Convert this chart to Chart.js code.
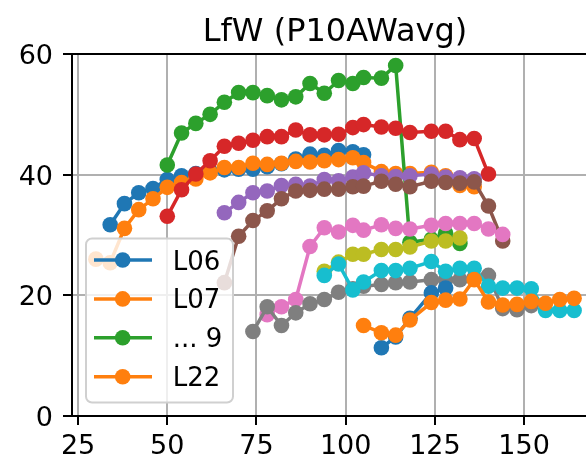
<!DOCTYPE html>
<html><head><meta charset="utf-8">
<script src="https://cdn.jsdelivr.net/npm/chart.js@4"></script>
<style>
html,body{margin:0;padding:0;background:#fff;overflow:hidden}
#wrap{width:586px;height:461px;overflow:hidden;position:relative}
canvas{display:block}
</style></head>
<body><div id="wrap"><canvas id="c" width="640" height="461"></canvas></div>
<script>
const _ = null;
// shared x positions
const xs = [30,34,38,42,46,50,54,58,62,66,70,74,78,82,86,90,94,98,102,105,110,114,118,124,128,132,136,140,144,148,152,156,160,164];
const xTicks = [25,50,75,100,125,150];
const yTicks = [0,20,40,60];
const title = 'LfW (P10AWavg)';

const L06 = [_,31.7,35.2,37.0,37.7,39.2,39.8,40.2,40.6,40.8,40.9,40.9,41.3,41.8,42.6,43.4,43.2,44.0,43.8,43.3,_,_,_,_,_,_,_,_,_,_,_,_,_,_];
const L07 = [26.0,25.4,31.1,34.2,36.0,37.9,38.7,39.3,40.3,41.2,41.2,41.9,41.7,41.9,42.2,42.1,42.3,42.5,42.8,42.0,40.5,40.2,40.2,40.4,39.8,38.2,38.0,_,_,_,_,_,_,_];
const S3  = [_,_,_,_,_,41.6,46.9,48.5,50.0,52.0,53.6,53.6,53.1,52.4,52.9,55.1,53.5,55.6,55.1,56.1,56.0,58.1,28.8,29.3,30.3,28.6,_,_,_,_,_,_,_,_];
const S4  = [_,_,_,_,_,33.1,37.5,40.1,42.3,44.7,45.2,45.7,46.3,46.3,47.4,46.6,46.6,46.7,47.8,48.3,47.9,47.7,47.0,47.2,47.2,45.8,46.0,40.1,_,_,_,_,_,_];
const S5  = [_,_,_,_,_,_,_,_,_,33.7,35.4,37.0,37.3,38.2,38.4,38.1,39.2,39.0,39.6,40.3,39.8,39.7,39.8,40.1,39.6,39.5,39.3,_,_,_,_,_,_,_];
const S6  = [_,_,_,_,_,_,_,_,_,22.1,29.8,32.4,34.0,36.0,37.3,37.4,37.6,37.6,38.0,38.1,38.9,38.4,38.0,38.9,38.7,38.6,38.8,34.8,29.0,_,_,_,_,_];
const S7  = [_,_,_,_,_,_,_,_,_,_,_,_,16.8,18.1,19.3,28.1,31.2,30.5,31.6,30.8,31.7,31.1,31.0,31.6,31.9,31.9,31.9,31.0,30.1,_,_,_,_,_];
const S8  = [_,_,_,_,_,_,_,_,_,_,_,14.0,18.1,15.0,17.1,18.6,19.3,20.5,21.1,21.5,21.8,22.1,22.2,22.6,22.6,22.6,22.9,23.3,17.8,17.6,18.3,_,_,_];
const S9  = [_,_,_,_,_,_,_,_,_,_,_,_,_,_,_,_,24.0,25.5,26.8,26.8,27.6,27.6,28.0,29.0,29.0,29.5,_,_,_,_,_,_,_,_];
const S10 = [_,_,_,_,_,_,_,_,_,_,_,_,_,_,_,_,23.3,25.2,20.9,22.2,24.1,24.1,24.5,25.6,24.0,24.5,24.5,21.5,21.2,21.2,21.1,17.5,17.5,17.5];
const S11 = [_,_,_,_,_,_,_,_,_,_,_,_,_,_,_,_,_,_,_,_,11.3,13.1,16.2,20.4,21.2,_,_,_,_,_,_,_,_,_];
const L22 = [_,_,_,_,_,_,_,_,_,_,_,_,_,_,_,_,_,_,_,15.0,13.8,13.4,15.9,18.8,19.2,19.4,22.6,18.9,18.4,18.5,19.0,18.7,19.3,19.5];

const seriesNames = ['L06','L07','S3','S4','S5','S6','S7','S8','S9','S10','S11','L22'];
const seriesValues = [L06,L07,S3,S4,S5,S6,S7,S8,S9,S10,S11,L22];
const colors = ['#1f77b4','#ff7f0e','#2ca02c','#d62728','#9467bd','#8c564b','#e377c2','#7f7f7f','#bcbd22','#17becf','#1f77b4','#ff7f0e'];
const legendLabels = ['L06','L07','... 9','L22'];
const legendColors = [colors[0],colors[1],colors[2],colors[11]];

const FONT = "'DejaVu Sans', sans-serif";
const PR = 7.8, LW = 3.5;

const datasets = seriesValues.map((vals,i)=>({
  label: seriesNames[i],
  data: xs.map((x,j)=>({x:x, y:vals[j]})).filter(p=>p.y!==null),
  borderColor: colors[i], backgroundColor: colors[i],
  pointBackgroundColor: colors[i], pointBorderColor: colors[i],
  pointBorderWidth: 0, pointRadius: PR, pointHoverRadius: PR,
  borderWidth: LW, tension: 0, fill: false,
  order: seriesValues.length - i
}));

const decor = {
  id:'decor',
  afterDatasetsDraw(chart){
    const ctx = chart.ctx, a = chart.chartArea;
    ctx.save();
    ctx.strokeStyle = '#000'; ctx.lineWidth = 2;
    ctx.beginPath();
    ctx.moveTo(a.left, a.top); ctx.lineTo(a.right + 50, a.top);
    ctx.moveTo(a.left, a.top - 1); ctx.lineTo(a.left, a.bottom + 1);
    ctx.moveTo(a.left - 1, a.bottom); ctx.lineTo(a.right + 50, a.bottom);
    ctx.stroke();
    // title
    ctx.fillStyle = '#000';
    ctx.font = '32px ' + FONT;
    ctx.textAlign = 'center'; ctx.textBaseline = 'alphabetic';
    ctx.fillText(title, (a.left + a.right)/2, 41);
    // legend
    const bx = 86, by = 238.5, bw = 147, bh = 164, r = 6;
    ctx.beginPath();
    ctx.moveTo(bx + r, by);
    ctx.arcTo(bx + bw, by, bx + bw, by + bh, r);
    ctx.arcTo(bx + bw, by + bh, bx, by + bh, r);
    ctx.arcTo(bx, by + bh, bx, by, r);
    ctx.arcTo(bx, by, bx + bw, by, r);
    ctx.closePath();
    ctx.fillStyle = 'rgba(255,255,255,0.8)';
    ctx.fill();
    ctx.strokeStyle = '#d0d0d0'; ctx.lineWidth = 2;
    ctx.stroke();
    ctx.font = '26px ' + FONT;
    ctx.textAlign = 'left';
    legendLabels.forEach((lab,k)=>{
      const y = 260 + k*38.9;
      ctx.strokeStyle = legendColors[k]; ctx.lineWidth = LW;
      ctx.beginPath(); ctx.moveTo(94, y); ctx.lineTo(152, y); ctx.stroke();
      ctx.fillStyle = legendColors[k];
      ctx.beginPath(); ctx.arc(122.7, y, PR, 0, Math.PI*2); ctx.fill();
      ctx.fillStyle = '#000';
      ctx.fillText(lab, 172.7, y + 9.5);
    });
    ctx.restore();
  }
};

new Chart(document.getElementById('c'), {
  type: 'line',
  data: { datasets: datasets },
  plugins: [decor],
  options: {
    responsive: false, animation: false, devicePixelRatio: 1,
    layout: { padding: { top: 54, right: 42, left: 0, bottom: 0 } },
    plugins: { legend: { display: false }, title: { display: false }, tooltip: { enabled: false } },
    scales: {
      x: {
        type: 'linear', min: 23.3, max: 170.7,
        afterBuildTicks: s => { s.ticks = xTicks.map(v => ({ value: v })); },
        afterFit: s => { s.height = 45; },
        grid: { color: '#b0b0b0', lineWidth: 2, tickLength: 9, tickColor: '#000', tickWidth: 2 },
        border: { display: true, color: '#000', width: 2 },
        ticks: { color: '#000', font: { family: FONT, size: 27 }, padding: 6, maxRotation: 0, autoSkip: false }
      },
      y: {
        type: 'linear', min: 0, max: 60,
        afterBuildTicks: s => { s.ticks = yTicks.map(v => ({ value: v })); },
        afterFit: s => { s.width = 72; },
        grid: { color: '#b0b0b0', lineWidth: 2, tickLength: 9, tickColor: '#000', tickWidth: 2 },
        border: { display: true, color: '#000', width: 2 },
        ticks: { color: '#000', font: { family: FONT, size: 27 }, padding: 10, labelOffset: 3 }
      }
    }
  }
});
</script>
</body></html>
